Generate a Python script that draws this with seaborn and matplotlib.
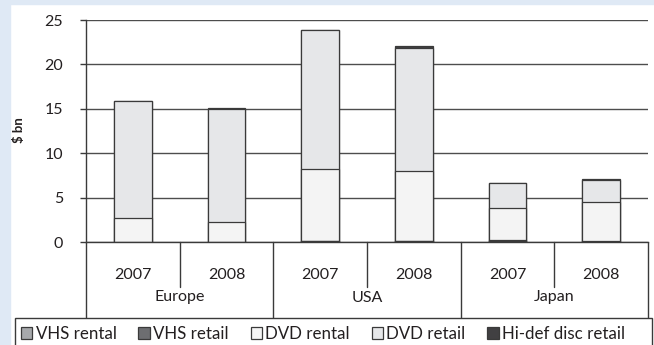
import matplotlib
matplotlib.use("Agg")
import matplotlib.pyplot as plt
from matplotlib.patches import Rectangle, Patch
from matplotlib.lines import Line2D
import seaborn as sns
import pandas as pd
import numpy as np

# Video market revenue by region and year ($ bn)
regions = ["Europe", "USA", "Japan"]
years = ["2007", "2008"]
bar_labels = ["Europe 2007", "Europe 2008", "USA 2007", "USA 2008", "Japan 2007", "Japan 2008"]
vhs_rental = [0.0, 0.0, 0.1, 0.1, 0.1, 0.05]
vhs_retail = [0.0, 0.0, 0.0, 0.05, 0.15, 0.05]
dvd_rental = [2.7, 2.3, 8.1, 7.8, 3.55, 4.35]
dvd_retail = [13.15, 12.7, 15.7, 13.85, 2.8, 2.55]
hidef_retail = [0.0, 0.12, 0.0, 0.3, 0.0, 0.1]
yticks = [0, 5, 10, 15, 20, 25]

series_names = ["VHS rental", "VHS retail", "DVD rental", "DVD retail", "Hi-def disc retail"]
series_vals = [vhs_rental, vhs_retail, dvd_rental, dvd_retail, hidef_retail]
series_colors = ["#a7a9ac", "#6d6e71", "#f4f4f4", "#e6e7e9", "#414042"]
edge = "#3a3a3a"

sns.set_style("white")
plt.rcParams["font.family"] = ["Lato", "DejaVu Sans"]

W, H = 654, 345
fig = plt.figure(figsize=(W / 100, H / 100), dpi=100)
fig.patch.set_facecolor("white")

# light blue page border
bg = "#dfe9f5"
fig.patches.append(Rectangle((0, 0), 10 / W, 1, transform=fig.transFigure, color=bg, zorder=0))
fig.patches.append(Rectangle((0, 1 - 4 / H), 1, 4 / H, transform=fig.transFigure, color=bg, zorder=0))

ax = fig.add_axes([86 / W, (H - 242) / H, (648 - 86) / W, (242 - 20) / H])
ax.set_facecolor("none")

df = pd.DataFrame({"bar": bar_labels})
cum = np.zeros(len(bar_labels))
cums = []
for vals in series_vals:
    cum = cum + np.array(vals)
    cums.append(cum.copy())

# stacked bars: draw cumulative totals from the top layer down
for name, c, color in reversed(list(zip(series_names, cums, series_colors))):
    d = df.assign(v=c)
    sns.barplot(data=d, x="bar", y="v", order=bar_labels, color=color, saturation=1,
                edgecolor=edge, linewidth=0.9, width=0.4, errorbar=None, ax=ax, zorder=3)

ax.set_xlim(-0.5, len(bar_labels) - 0.5)
ax.set_ylim(0, 25)
ax.set_yticks(yticks)
ax.set_xticks([])
ax.set_xlabel("")
ax.set_ylabel("")
ax.yaxis.grid(True, color="#4d4d4d", linewidth=1.0)
ax.xaxis.grid(False)
ax.set_axisbelow(True)
for s in ["top", "right"]:
    ax.spines[s].set_visible(False)
for s in ["left", "bottom"]:
    ax.spines[s].set_color("#3a3a3a")
    ax.spines[s].set_linewidth(1.0)
ax.tick_params(axis="y", length=4.5, width=1.0, color="#3a3a3a", pad=12,
               labelsize=11.5, labelcolor="#231f20", left=True)

# category axis drawn as a table below the plot
tr = ax.get_xaxis_transform()
for i in range(len(regions) + 1):
    x = -0.5 + 2 * i
    ax.add_line(Line2D([x, x], [0, -0.342], transform=tr, color="#3a3a3a", lw=1.0, clip_on=False))
for i in range(len(regions)):
    x = 0.5 + 2 * i
    ax.add_line(Line2D([x, x], [0, -0.203], transform=tr, color="#3a3a3a", lw=1.0, clip_on=False))
    ax.text(x, -0.250, regions[i], transform=tr, ha="center", va="center", fontsize=11.5, color="#231f20")
for j in range(len(bar_labels)):
    ax.text(j, -0.150, years[j % 2], transform=tr, ha="center", va="center", fontsize=11.5, color="#231f20")

fig.text(19 / W, 1 - 130 / H, "$ bn", rotation=90, ha="center", va="center",
         fontsize=9.5, fontweight="bold", color="#231f20")

# legend box
fig.patches.append(Rectangle((15 / W, -0.05), (652 - 15) / W, 0.05 + (H - 318) / H,
                             transform=fig.transFigure, facecolor="white", edgecolor="#3a3a3a",
                             lw=1.0, zorder=1))
handles = [Patch(facecolor=c, edgecolor=edge, linewidth=0.9) for c in series_colors]
fig.legend(handles, series_names, loc="center left", bbox_to_anchor=(21 / W, 1 - 334 / H),
           ncol=5, frameon=False, handlelength=0.66, handleheight=0.66, handletextpad=0.2,
           columnspacing=1.3, borderaxespad=0, borderpad=0, fontsize=12.2,
           labelcolor="#231f20")

fig.savefig("out.png", dpi=100)
